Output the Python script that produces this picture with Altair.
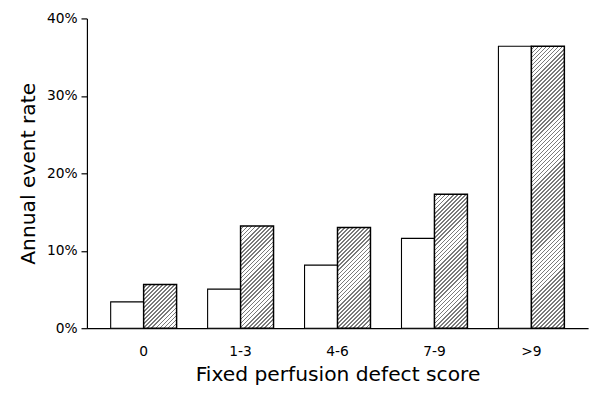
import math
import altair as alt
import pandas as pd

# ---- data ----
categories = ["0", "1-3", "4-6", "7-9", ">9"]
open_rates = [3.4, 5.05, 8.15, 11.6, 36.4]      # white bars, %
hatched_rates = [5.65, 13.2, 13.0, 17.3, 36.4]  # hatched bars, %
groups = ["open", "hatched"]
y_ticks = [0, 0.1, 0.2, 0.3, 0.4]

df = pd.DataFrame({
    "score": categories * 2,
    "group": ["open"] * len(categories) + ["hatched"] * len(categories),
    "rate": [v / 100 for v in open_rates + hatched_rates],
})

PLOT_W, PLOT_H = 508, 314
YMAX = 0.4
PAD_IN, PAD_OUT = 0.32, 0.245
STEP = PLOT_W / (len(categories) - PAD_IN + 2 * PAD_OUT)
BAR_W = STEP * (1 - PAD_IN) / 2
FONT = "DejaVu Sans"


def hatch_fill(rate):
    """Linear gradient with hard stops that draws 45-degree hatching."""
    h = max(rate / YMAX * PLOT_H, 1.0)
    dx, dy = 1.0 / h, 1.0 / BAR_W
    lam = (dx + dy) / (dx * dx + dy * dy)
    n = max(1, round((BAR_W + h) / math.sqrt(2) / 2.9))
    stops = []
    for k in range(n):
        a, b, c = k / n, (k + 0.6) / n, (k + 1) / n
        stops += [
            {"offset": a, "color": "#ffffff"},
            {"offset": b, "color": "#ffffff"},
            {"offset": b, "color": "#7a7a7a"},
            {"offset": c, "color": "#7a7a7a"},
        ]
    return {"gradient": "linear", "x1": 0, "y1": 0,
            "x2": lam * dx, "y2": lam * dy, "stops": stops}


x_enc = alt.X(
    "score:N", sort=categories,
    scale=alt.Scale(paddingInner=PAD_IN, paddingOuter=PAD_OUT),
    axis=alt.Axis(
        title="Fixed perfusion defect score", labelAngle=0, ticks=False, tickSize=0,
        labelPadding=17, labelFontSize=14, labelFont=FONT, labelColor="black",
        titleFont=FONT, titleFontSize=20.5, titleFontWeight="normal", titleColor="black",
        titleY=37, titleBaseline="top", domainColor="black", domainWidth=1.2,
    ),
)
xo_enc = alt.XOffset("group:N", sort=groups,
                     scale=alt.Scale(domain=groups, paddingInner=0, paddingOuter=0))
y_enc = alt.Y(
    "rate:Q", scale=alt.Scale(domain=[0, YMAX]),
    axis=alt.Axis(
        title="Annual event rate", values=y_ticks, format=".0%", grid=False,
        tickSize=6, tickColor="black", tickWidth=1.2, labelPadding=4,
        labelFontSize=14, labelFont=FONT, labelColor="black",
        titleFont=FONT, titleFontSize=20.5, titleFontWeight="normal", titleColor="black",
        titleX=-59.5, titleY=157, titleAngle=-90, titleAlign="center",
        titleBaseline="middle", domainColor="black", domainWidth=1.2,
    ),
)

base = alt.Chart(df).encode(x=x_enc, xOffset=xo_enc, y=y_enc)

layers = [
    base.transform_filter(alt.datum.group == "open")
        .mark_bar(fill="white", stroke="black", strokeWidth=1.1)
]
for cat, rate in zip(categories, hatched_rates):
    layers.append(
        base.transform_filter((alt.datum.group == "hatched") & (alt.datum.score == cat))
            .mark_bar(fill=hatch_fill(rate / 100), stroke="black", strokeWidth=1.5)
    )

chart = alt.layer(*layers).properties(
    width=PLOT_W, height=PLOT_H,
    autosize=alt.AutoSizeParams(type="none"),
    padding={"left": 80, "top": 8, "right": 7, "bottom": 56},
    background="white",
).configure_view(stroke=None)

chart.save("out.html", embed_options={"renderer": "svg", "actions": False})
